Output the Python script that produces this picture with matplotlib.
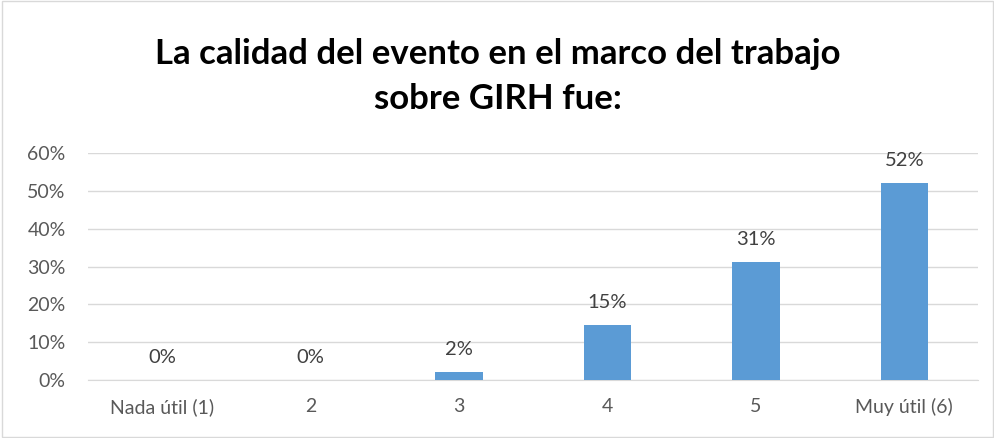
import matplotlib
matplotlib.use("Agg")
import matplotlib.pyplot as plt
from matplotlib.patches import Rectangle

# ---------- data -----------------------------------------------------------
categories = ["Nada útil (1)", "2", "3", "4", "5", "Muy útil (6)"]
values = [0.0, 0.0, 0.0208, 0.1458, 0.3125, 0.5208]
labels = ["0%", "0%", "2%", "15%", "31%", "52%"]
yticks = [0.0, 0.1, 0.2, 0.3, 0.4, 0.5, 0.6]
ytick_labels = ["0%", "10%", "20%", "30%", "40%", "50%", "60%"]
title = "La calidad del evento en el marco del trabajo\nsobre GIRH fue:"

plt.rcParams["font.family"] = ["Lato", "DejaVu Sans"]
BAR = "#5B9BD5"
TXT = "#595959"

fig = plt.figure(figsize=(9.95, 4.38), dpi=100)
fig.patches.append(Rectangle((0.002, 0.002), 0.996, 0.996, transform=fig.transFigure,
                             fill=False, edgecolor="#D9D9D9", linewidth=1))

ax = fig.add_axes([0.0884, 0.1324, 0.895, 0.5183])
x = list(range(len(categories)))
ax.bar(x, values, width=0.32, color=BAR, zorder=3)
for xi, v, lab in zip(x, values, labels):
    ax.annotate(lab, (xi, v), textcoords="offset points", xytext=(0, 10),
                ha="center", va="bottom", fontsize=14.5, color="#404040")

ax.set_xlim(-0.5, len(categories) - 0.5)
ax.set_ylim(0, 0.6)
ax.set_yticks(yticks)
ax.set_yticklabels(ytick_labels)
ax.set_xticks(x)
ax.set_xticklabels(categories)
ax.tick_params(axis="both", length=0, labelsize=14, colors=TXT)
ax.tick_params(axis="y", pad=16)
ax.tick_params(axis="x", pad=13)
ax.grid(axis="y", color="#D9D9D9", linewidth=1, zorder=0)
for s in ("top", "right", "left"):
    ax.spines[s].set_visible(False)
ax.spines["bottom"].set_color("#D9D9D9")

fig.text(0.5, 0.825, title, ha="center", va="center", fontsize=25,
         fontweight="bold", color="black", linespacing=1.48)

fig.savefig("out.png", dpi=100)
